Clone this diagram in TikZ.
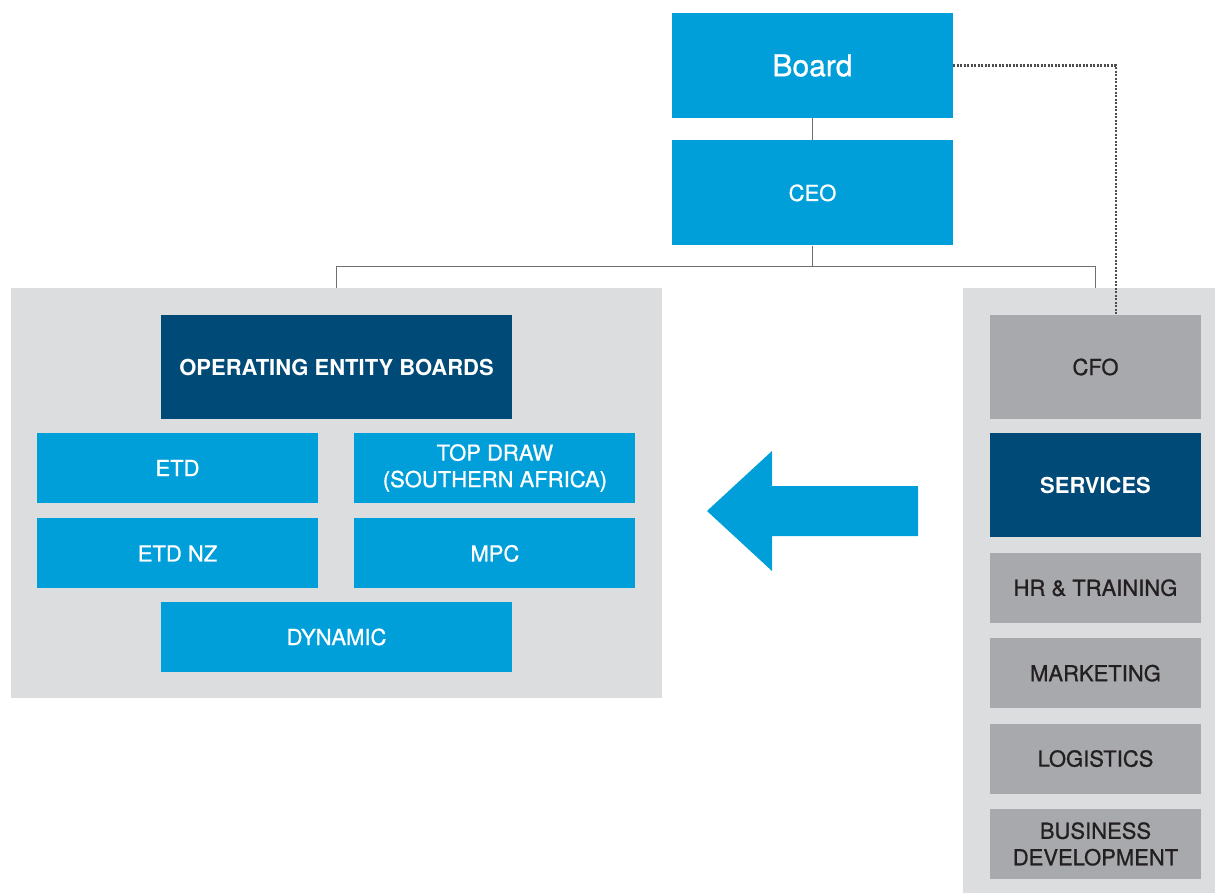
\documentclass[tikz,border=0pt]{standalone}
\usepackage{fontspec}
\setmainfont{TeX Gyre Heros}
\newfontfamily\medfont{TeX Gyre Heros}[FakeBold=0.9]
\usepackage{tikz}
\usepackage{xcolor}
\usetikzlibrary{positioning}
\definecolor{cBlue}{HTML}{009FDA}
\definecolor{cNavy}{HTML}{004A77}
\definecolor{cGrey}{HTML}{A7A9AC}
\definecolor{cPanel}{HTML}{DCDDDF}
\definecolor{cLine}{HTML}{6D6E71}
\definecolor{cInk}{HTML}{231F20}
\tikzset{
  box/.style   ={inner sep=0pt,align=center,text=white,
                 font=\medfont\fontsize{22}{26.5}\selectfont},
  bbox/.style  ={box,fill=cBlue},
  nbox/.style  ={box,fill=cNavy,font=\rmfamily\fontsize{22}{26.5}\selectfont\bfseries},
  gbox/.style  ={box,fill=cGrey,text=cInk},
  panel/.style ={fill=cPanel,inner sep=0pt},
  top/.style   ={minimum width=281pt,minimum height=105pt},
  cell/.style  ={minimum width=281pt,minimum height=70pt},
  wide/.style  ={minimum width=351pt},
  col/.style   ={minimum width=211pt,minimum height=70pt},
  link/.style  ={draw=cLine,line width=1.8pt},
  dots/.style  ={draw=cLine!70!black,line width=2.2pt,
                 dash pattern=on 1.9pt off 1.6pt},
}
\begin{document}
\begin{tikzpicture}[x=1pt,y=-1pt]
\useasboundingbox (0,0) rectangle (1215,893);
\node[bbox,top,font=\medfont\fontsize{30}{36}\selectfont] (board) at (812.5,65.5) {Board};
\node[bbox,top,below=22pt of board] (ceo) {CEO};

\node[panel,minimum width=651pt,minimum height=410pt] (ops) at (336.5,493) {};
\node[panel,minimum width=252pt,minimum height=606pt] (shared) at (1089,591) {};

\node[nbox,wide,minimum height=104pt,below=27pt of ops.north] (oeb) {OPERATING ENTITY BOARDS};
\node[bbox,cell] (etd) at (177.5,468) {ETD};
\node[bbox,cell,right=36pt of etd] (tdsa) {TOP DRAW\\(SOUTHERN AFRICA)};
\node[bbox,cell,below=15pt of etd] (etdnz) {ETD NZ};
\node[bbox,cell,right=36pt of etdnz] (mpc) {MPC};
\node[bbox,wide,minimum height=70pt] (dyn) at (336.5,637) {DYNAMIC};

\node[gbox,col,minimum height=104pt] (cfo) at (1095.5,367) {CFO};
\node[nbox,col,minimum height=104pt,below=14pt of cfo] (serv) {SERVICES};
\node[gbox,col,below=15pt of serv] (hr) {HR \& TRAINING};
\node[gbox,col,below=15pt of hr] (mkt) {MARKETING};
\node[gbox,col,below=15pt of mkt] (log) {LOGISTICS};
\node[gbox,col,below=15pt of log] (bdev) {BUSINESS\\DEVELOPMENT};

\fill[cBlue] (707,511) -- (772,451) -- (772,486) -- (918,486) -- (918,536)
  -- (772,536) -- (772,571) -- cycle;

\draw[link] (board) -- (ceo);
\draw[link] (ceo.south) -- ++(0,21) coordinate (fork) -| (ops.north);
\draw[link] (fork) -| (shared.north -| cfo.north);
\draw[dots] (board.east) -| ([xshift=20.5pt]cfo.north);
\end{tikzpicture}
\end{document}
